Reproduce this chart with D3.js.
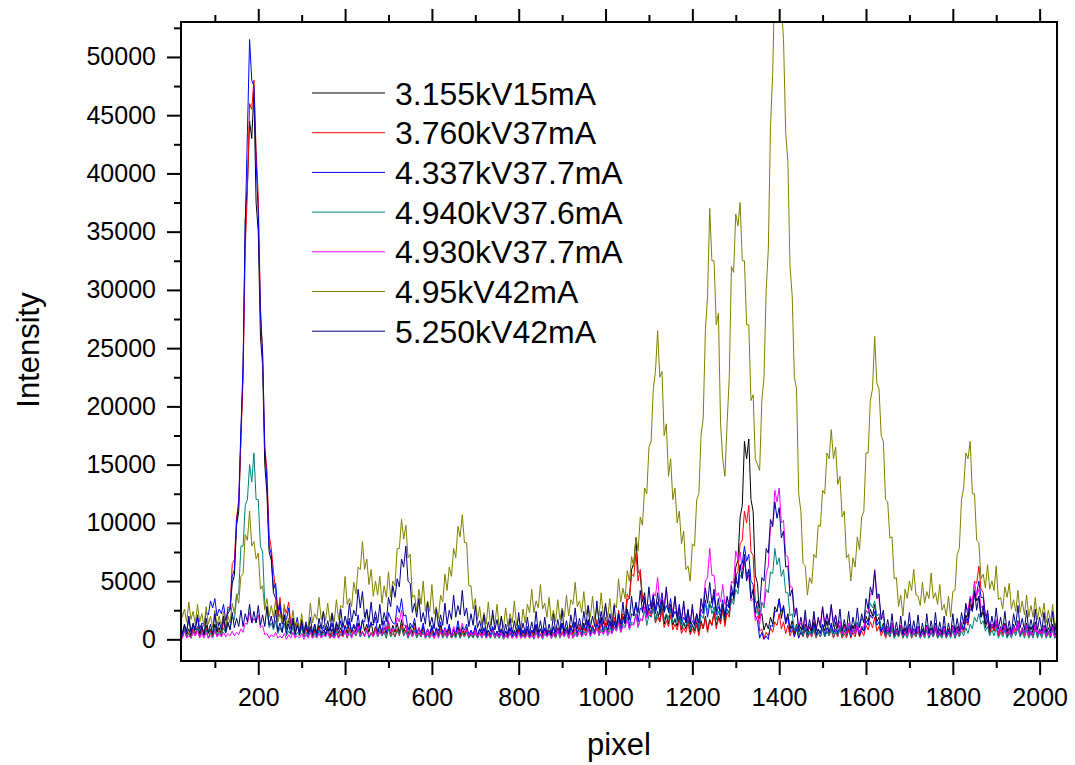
<!DOCTYPE html>
<html><head><meta charset="utf-8">
<script src="https://cdn.jsdelivr.net/npm/d3@7"></script>
<style>
body{margin:0;background:#fff}
text{font-family:"Liberation Sans",Arial,Helvetica,sans-serif;fill:#000}
</style>
</head><body>
<svg id="chart" width="1075" height="765"></svg>
<script>
// detector pixel grid of the sampled values (one value every 5 pixels, from pixel 20)
const pixelStart = 20, pixelStep = 5;

const seriesNames = ["3.155kV15mA","3.760kV37mA","4.337kV37.7mA","4.940kV37.6mA","4.930kV37.7mA","4.95kV42mA","5.250kV42mA"];
const seriesColors = ["#000000","#ff0000","#0000ff","#008080","#ff00ff","#808000","#000080"];

const s3155kV15mA = [
 1100,300,1200,400,900,300,1300,500,1000,200,1100,400,1200,500,900,300,1300,600,1000,400,
 1600,900,2200,2500,4800,5500,9800,11000,17500,23000,36000,39000,44500,43000,47000,37500,35000,26000,23500,15000,
 12500,7500,6800,4000,3500,1900,2900,1400,2100,900,1600,1100,1800,600,1200,700,1500,400,1000,500,
 1100,300,900,400,1200,300,800,500,1100,200,900,400,1300,500,1000,300,1200,500,1500,600,
 1200,600,1400,500,1700,700,1300,600,1500,400,1100,500,1300,400,1000,500,1500,500,1200,600,
 1400,500,1700,600,1200,400,1100,500,1400,400,900,400,1100,300,800,300,1000,200,900,400,
 1200,400,900,300,1100,200,800,300,1100,300,1000,400,1000,300,700,200,1000,300,900,400,
 900,300,800,200,1000,300,700,200,900,200,700,200,900,200,800,300,1000,300,700,200,
 900,200,800,300,1200,400,900,300,900,200,800,300,1100,300,1000,400,1400,500,1000,400,
 1200,500,1500,600,1000,500,1400,700,1700,600,1200,600,1500,800,1900,700,1400,700,1600,800,
 1600,900,2300,1100,2000,1300,3400,3500,6000,6500,8700,5800,5600,3200,4000,2000,2700,2200,3200,1500,
 2400,1500,2900,1300,2100,1300,2700,1200,1700,1100,2000,800,1400,900,1800,600,1200,700,1500,600,
 1600,900,2000,800,1700,1200,2400,1200,2000,1500,2800,1400,2600,2200,4000,3800,6200,6800,10500,11500,
 17000,15500,17200,12000,11000,5500,4800,1800,2200,800,1400,900,1900,1300,2800,2400,3500,1800,2900,1500,
 2200,900,1600,500,1300,600,1100,300,1300,400,1100,500,1500,400,900,500,1300,700,1600,500,
 1200,500,1500,400,1000,400,1300,300,900,400,1200,500,1400,400,1100,700,2000,1500,2600,2000,
 3000,1500,1900,700,1400,400,1100,500,1400,300,900,400,1200,300,1000,400,1300,300,900,400,
 1100,300,900,400,1200,400,1000,400,1400,400,900,300,1100,200,900,300,1200,300,1100,500,
 1400,800,2100,1600,3000,2500,4200,3300,3700,1900,2400,1000,1700,500,1300,700,1600,400,1100,500,
 1400,300,1000,500,1300,700,1600,400,1000,500,1400,300,1100,500,1500,400,900,500,1200,300,
 1000,500,1300,300,800];

const s3760kV37mA = [
 700,100,800,200,600,100,900,300,1100,200,800,300,900,100,700,200,1000,300,800,400,
 1700,800,2800,2600,6500,6800,10500,11500,17000,22500,33500,38500,46000,45500,48000,42000,38000,28500,24500,16500,
 14500,9000,7800,5800,4200,2000,3600,1500,2700,2300,3200,1300,1800,500,1300,600,1700,300,900,400,
 900,100,700,200,1000,200,600,300,800,100,600,200,900,200,700,300,800,100,1000,300,
 800,300,1000,200,700,300,1000,200,600,300,1000,200,800,300,700,100,1100,300,800,200,
 900,300,1300,300,800,100,700,300,1000,200,600,200,800,100,500,200,800,100,700,300,
 900,200,600,200,800,100,500,200,800,100,700,200,800,100,500,200,700,100,600,200,
 700,200,500,100,800,100,600,100,700,100,400,100,600,100,600,200,800,100,500,200,
 700,100,600,200,900,100,500,200,700,300,800,100,600,200,1000,200,700,300,800,100,
 1100,300,900,400,1300,300,1000,500,1500,400,1200,600,1700,500,1300,700,1900,600,1500,700,
 1900,1100,2500,1100,2200,2000,3900,3500,5600,5400,7400,5000,6000,3500,3400,1900,2400,1900,2900,1400,
 1900,1500,2500,1000,1600,1100,2100,800,1300,800,1700,500,1000,600,1400,400,900,500,1200,300,
 1400,900,1800,600,1600,1200,2300,900,1800,1300,2600,1100,2300,1900,3500,3300,5500,5800,8200,8500,
 11000,10000,11500,7500,7200,3300,2800,700,900,100,600,300,1000,600,1500,1200,2200,900,1500,500,
 1200,300,800,300,1000,200,600,200,900,100,500,200,800,100,600,200,900,200,700,300,
 800,100,600,200,900,100,500,100,800,100,600,200,1000,200,700,300,1200,800,1500,1000,
 1900,700,1100,300,800,100,600,200,900,100,500,200,800,100,600,200,900,100,500,200,
 700,100,500,200,800,100,600,200,900,100,500,200,800,100,600,200,900,100,700,300,
 1000,600,1600,1200,3000,2800,5000,4800,6300,4300,4000,1900,2000,600,1100,700,1300,300,800,400,
 1000,200,600,300,900,500,1200,300,700,300,1000,200,600,300,1100,200,700,300,900,200,
 600,200,900,100,400];

const s4337kV377mA = [
 1300,400,900,700,1700,600,1100,1000,2100,900,1400,1200,2300,2100,3300,2700,3500,2000,2600,2200,
 3000,1600,2500,2600,5400,6000,10000,12000,18000,23500,35500,43500,51500,48000,47500,41000,36500,28000,24500,16500,
 13500,8000,7300,4300,4800,2500,3100,1300,2100,1700,2700,900,1400,1100,1900,500,1100,700,1500,400,
 900,600,1300,300,800,500,1200,300,900,700,1400,300,1000,800,1600,400,1100,900,1800,600,
 1300,900,2100,800,1600,1500,2600,1000,1400,1200,1900,600,1100,700,1600,500,2300,1800,1400,1300,
 2900,2300,3500,2000,2100,800,1400,1000,1800,500,1000,600,1400,300,900,500,1200,300,1000,700,
 1500,500,1000,600,1300,300,900,500,1600,500,1100,800,1300,300,800,400,1200,300,900,500,
 1000,200,800,400,1100,200,700,300,900,200,700,400,1000,200,700,300,1200,300,800,400,
 1100,200,800,500,1300,300,900,500,1000,200,700,300,1100,200,900,500,1300,300,800,400,
 1000,600,1400,300,900,400,1200,800,1500,400,1000,600,1300,1000,1700,500,1200,800,1500,500,
 1400,900,2000,700,1600,1500,2600,1100,2200,2000,3200,1500,2700,2500,3600,2000,3000,2800,3800,2200,
 3200,2700,4000,2300,2900,2500,3500,1900,2400,2000,3000,1300,1900,1500,2600,1000,1600,1200,2200,900,
 2600,2200,3400,1900,3000,2700,3800,2100,2800,2400,3400,1900,3000,2700,4000,3700,5000,4700,6400,6500,
 8000,6700,7300,5000,4700,2000,1600,100,600,0,300,0,1200,1100,2400,2400,3400,2400,2800,1300,
 1900,600,1200,200,900,100,600,300,1000,200,700,400,1200,300,800,500,1300,300,1000,600,
 1400,500,900,500,1200,300,700,400,1100,200,800,500,1200,300,900,700,1600,1200,2100,1800,
 2400,1200,1500,600,1100,300,800,500,1200,300,700,400,1100,200,800,500,1200,300,900,500,
 1100,300,700,400,1200,300,800,500,1000,200,600,300,1100,300,700,400,1000,200,800,500,
 1100,800,1800,1400,2600,2500,4000,3900,5000,3600,3600,2000,2200,900,1300,900,1600,500,1000,700,
 1200,300,800,400,1100,800,1400,400,800,500,1200,300,700,400,1300,400,800,500,1100,300,
 700,300,1100,300,600];

const s4940kV376mA = [
 500,100,900,200,500,100,700,300,1100,300,600,200,800,100,500,200,1000,300,700,300,
 1000,500,1300,900,1900,1700,3600,4000,8000,8000,11500,12000,15000,13500,16000,12000,12000,8000,7500,3000,
 2700,1000,1400,800,1600,500,1000,600,1400,300,700,400,1100,200,600,300,1000,200,600,200,
 700,100,500,200,800,200,600,200,700,100,400,100,700,100,500,200,700,100,800,200,
 600,300,900,200,600,200,800,100,500,200,800,200,700,300,600,100,900,200,500,200,
 700,400,1000,300,700,100,600,200,800,100,500,200,700,100,400,100,600,100,500,200,
 700,100,500,100,600,100,400,100,700,100,500,200,600,100,400,100,500,100,500,100,
 500,100,400,100,600,100,400,100,500,0,300,100,500,100,400,100,600,100,400,100,
 500,100,400,0,700,100,400,0,500,200,600,100,400,100,700,100,500,200,600,100,
 700,100,600,200,900,200,700,300,1000,200,800,400,1100,300,900,500,1200,400,1000,600,
 1100,700,1600,600,1300,1100,1900,800,1500,1300,2200,1000,1800,1600,2500,1200,2100,1900,2800,1500,
 2300,2100,3100,1700,2200,1800,2700,1400,1800,1500,2300,1000,1500,1100,2000,800,1300,900,1800,900,
 2100,1800,2900,2500,3300,2200,2800,1700,2400,1900,3000,1800,2600,2300,3400,3000,4300,3900,5500,5300,
 6700,5500,6000,4000,4000,2100,2500,1900,3200,2700,4300,4000,5800,5600,7800,6400,7000,5400,6000,4000,
 4000,2000,2200,800,1200,300,800,300,1100,200,700,300,1000,200,600,200,900,200,700,300,
 1000,200,700,300,1100,200,800,400,1200,300,900,600,1500,1000,1800,1500,2500,2200,3100,2700,
 3300,2000,2200,900,1200,300,700,200,1000,100,600,200,900,100,500,100,800,100,600,200,
 800,100,500,100,900,100,600,200,800,100,400,100,700,100,500,100,800,100,600,200,
 700,300,1000,500,1300,900,1900,1500,2200,1300,1600,700,1100,300,800,300,1000,100,600,200,
 800,100,500,100,700,300,1000,200,600,100,800,100,500,100,900,100,600,100,800,100,
 500,100,800,100,300];

const s4930kV377mA = [
 400,100,700,100,300,100,600,300,800,100,500,100,600,100,300,100,700,200,500,200,
 600,200,500,300,700,300,600,400,900,600,1400,1300,2300,1400,1800,1500,2100,1000,1200,400,
 500,100,400,200,600,100,300,100,500,0,400,100,600,100,300,100,500,0,400,100,
 600,100,300,100,500,100,400,200,600,100,300,100,500,100,400,200,800,200,500,100,
 700,500,1100,400,600,300,900,300,500,200,800,300,600,400,1000,800,1600,600,900,800,
 1900,1500,2500,1200,1200,300,800,200,600,400,1000,300,500,200,800,200,400,100,700,100,
 600,400,900,200,500,300,1100,500,700,600,1400,600,900,300,600,300,800,200,500,200,
 700,100,400,200,800,200,500,200,600,100,300,100,700,100,400,100,600,100,300,100,
 500,100,300,100,600,100,400,100,700,200,500,100,400,200,800,200,500,200,700,100,
 600,100,400,200,800,200,500,300,900,300,600,400,1000,400,700,400,900,300,700,500,
 1000,700,1400,600,1100,1000,1700,900,1300,1200,2100,1100,1700,1600,2800,1800,2300,2400,4000,3700,
 5300,3200,3500,3000,4300,2500,2900,2400,3600,1900,2300,1800,3000,1500,1900,1300,2600,1200,1600,1400,
 3000,3000,5000,5300,7800,5500,5500,3700,4000,3200,4700,3000,3500,3200,5000,4800,7600,6800,7500,6000,
 7000,5100,5500,3300,3500,1600,2000,1300,3000,3000,5600,6300,9700,9700,12800,11800,13000,10000,10200,7200,
 7100,4500,4500,2400,2700,1000,1400,800,1900,700,1300,900,2100,1000,1600,1400,2800,1500,2000,1600,
 2900,1500,2000,900,1600,500,1100,500,1400,500,900,500,1300,600,1100,1000,2400,2300,3900,3900,
 6000,4000,3500,1700,2000,600,1100,500,1400,400,800,400,1200,300,700,300,1100,300,800,400,
 1000,200,600,300,1100,300,800,400,1200,300,700,300,1000,200,600,300,1100,300,900,500,
 1500,1300,2900,2500,3700,3200,4900,3700,4300,2700,2900,1600,2200,900,1300,900,1700,500,1000,600,
 1200,400,800,300,1100,700,1500,500,900,500,1200,300,700,400,1300,400,800,400,1100,300,
 700,300,1000,200,500];

const s495kV42mA = [
 3300,1900,2600,1500,3200,1700,2400,1300,3000,1500,2200,1100,2800,1300,2000,1000,2500,1200,2000,1100,
 2400,1100,2000,1400,3100,2200,3900,3100,5400,5600,9000,8500,11000,8000,8400,6900,7400,4300,4600,2500,
 3500,1900,2900,1900,3400,1500,2200,1400,3000,1200,1800,1100,2500,900,1500,900,2200,800,1300,1000,
 3100,1400,2200,1700,3600,1700,2400,1600,3100,1500,2300,1500,3400,1700,2900,2700,5400,3000,3500,2800,
 4900,3900,6200,6000,8400,6000,6900,4700,6000,3700,5000,3800,5400,3100,4600,3600,5800,3600,5000,4600,
 7800,7800,10300,8600,9800,7000,7300,3600,3800,2400,4300,3000,5000,2400,3300,2400,4700,2200,2800,1800,
 3800,3200,5600,4200,6200,5400,7800,7000,9700,8800,10700,8300,8300,4600,4600,2600,3500,1700,2800,1200,
 2300,1300,3200,1200,2100,1300,3000,1000,1900,1000,2700,1100,2200,1400,3300,1200,1800,900,2600,1400,
 3000,2300,4300,2300,3300,2700,4700,2600,3100,1900,3600,1600,2500,1500,3400,1700,2700,1900,3800,2000,
 3400,3000,4900,2800,3300,2300,4100,2100,2900,1900,3700,1700,2700,2000,4000,1900,3000,1900,3500,1500,
 3100,2700,5200,3200,4400,3500,5900,5000,7100,6200,8800,7600,10500,9800,13000,12500,16500,17000,21500,23000,
 26500,22500,23000,17500,18500,14000,15500,12000,13000,10000,11000,8200,9300,6000,6300,5000,8200,8000,12000,12500,
 17500,19000,26500,29500,37000,32500,32500,27000,28000,18500,15500,14000,18500,22500,32000,31500,36500,35500,37500,32500,
 32500,27000,27000,20500,21000,15500,15000,14500,20500,22500,30000,33500,44000,48500,57000,56000,59000,54500,51500,43500,
 41000,32000,29500,22500,21500,12500,11000,6500,6300,3800,5300,4800,7300,7000,9800,9700,12800,12500,16000,15500,
 18000,15500,16500,13300,14000,10500,11000,7000,7300,5000,7000,6200,8800,7700,10500,11000,16000,16000,20500,21500,
 26000,22000,21500,17500,17000,12000,11800,8700,8800,5200,5300,2800,3800,2000,4300,3500,5000,4200,6000,3800,
 3700,2900,4900,3100,4100,3500,5700,3500,4000,3000,4700,2500,3000,2000,3700,1900,4100,4200,7300,7800,
 12000,13000,16000,15500,17000,12500,12500,8500,8300,5200,5600,4400,6400,4300,5000,4200,6300,3400,3600,2600,
 4500,3600,4800,2600,3400,2400,4200,2300,3300,2100,3800,1900,2900,1900,3600,1700,2800,1900,3100,1400,
 2500,1500,3000,1000,1800];

const s5250kV42mA = [
 1600,500,1300,600,2000,700,1400,800,1900,500,1200,400,1800,600,1300,500,2200,700,1500,800,
 2000,600,1500,800,2300,1000,1800,1100,2500,1100,2200,1500,3000,1400,2400,1400,2900,1200,2100,1100,
 2800,1200,2000,1000,2500,700,1400,600,2100,500,1300,500,1800,400,1200,400,1600,500,1300,600,
 1900,500,1300,500,1800,900,2400,800,1600,700,2200,600,1500,900,2600,1000,2000,1200,3100,1500,
 2500,2000,4300,2700,4100,1900,2500,1500,3200,1400,2400,1400,3000,1200,2300,1500,3600,2800,4600,3600,
 5200,4500,6900,6200,8000,5000,4800,2300,3100,1900,3500,1500,2300,1300,3200,1100,1900,900,2600,1100,
 2100,1200,3100,1300,2500,1700,3800,1900,2900,2100,4200,2000,2700,1100,2200,1200,2900,1000,1600,700,
 2100,500,1500,700,2500,800,1700,600,2000,400,1300,400,1800,500,1600,600,2300,500,1400,500,
 1900,500,1500,600,2400,600,1600,500,1900,400,1300,400,2200,600,1700,700,2500,700,1600,500,
 2100,1000,2700,900,1800,800,2400,1200,2900,1000,2000,1100,3300,1300,2400,1300,3100,1200,2200,1100,
 2900,1100,2200,1300,3200,1400,2600,1700,3700,2000,3100,2300,4200,2300,3400,2500,4500,2600,3800,2500,
 4000,2200,3400,2400,4500,2300,3000,1900,3700,1700,2700,1600,3300,1400,2400,1300,3000,1200,2200,1400,
 3500,2500,4400,3100,4900,3100,4300,2400,3500,1800,3000,1900,3700,2700,4600,3500,5600,4400,6400,5200,
 7300,5000,6000,3500,4300,2300,3300,2700,5300,5000,7800,7400,10300,9700,11800,10400,11300,8700,9300,6200,
 6300,3700,4300,1900,2700,800,1900,800,2500,700,1700,700,2400,700,1900,1000,2800,1100,2200,1200,
 3000,1100,2100,1000,2600,700,1700,700,2400,700,1900,900,2700,1000,2200,1400,3500,2600,4500,3800,
 5900,3500,3900,1700,2500,600,1700,600,2200,400,1500,400,2000,400,1600,600,2300,500,1600,500,
 2100,300,1400,400,2200,500,1600,500,2300,500,1500,400,2000,300,1400,400,2200,600,1800,700,
 2300,1300,3100,1900,3500,2400,4100,2500,3700,1900,2900,1300,2500,800,2000,1000,2700,900,1900,800,
 2400,600,1600,500,2200,1200,2900,1000,1800,800,2500,700,1700,800,2600,800,1900,700,2300,600,
 1800,700,2400,600,1700];

const seriesValues = [s3155kV15mA, s3760kV37mA, s4337kV377mA, s4940kV376mA, s4930kV377mA, s495kV42mA, s5250kV42mA];

const xMajorTicks = [200,400,600,800,1000,1200,1400,1600,1800,2000];
const xMinorTicks = [100,300,500,700,900,1100,1300,1500,1700,1900];
const yMajorTicks = [0,5000,10000,15000,20000,25000,30000,35000,40000,45000,50000];
const yMinorTicks = [2500,7500,12500,17500,22500,27500,32500,37500,42500,47500,52500];
const xDomain = [22, 2040];
const yDomain = [-1860, 53000];

const L = 181, R = 1057, T = 22, B = 661;
const svg = d3.select("#chart");
const x = d3.scaleLinear().domain(xDomain).range([L, R]);
const y = d3.scaleLinear().domain(yDomain).range([B, T]);

svg.append("defs").append("clipPath").attr("id","plotclip")
  .append("rect").attr("x",L).attr("y",T).attr("width",R-L).attr("height",B-T);

const line = d3.line().x((d,i)=>x(pixelStart+i*pixelStep)).y(d=>y(d));
const g = svg.append("g").attr("clip-path","url(#plotclip)");
seriesValues.forEach((vals,k)=>{
  g.append("path").datum(vals).attr("d",line)
   .attr("fill","none").attr("stroke",seriesColors[k]).attr("stroke-width",1);
});

function styleAxis(sel){
  sel.select(".domain").remove();
  sel.selectAll(".tick line").attr("stroke","#000").attr("stroke-width",2);
}
const fs = "25px";
const bx = svg.append("g").attr("transform",`translate(0,${B})`)
  .call(d3.axisBottom(x).tickValues(xMajorTicks).tickSize(14).tickPadding(13).tickFormat(d3.format("d")));
styleAxis(bx); bx.selectAll("text").attr("font-size",fs).attr("font-family",null);
const bxm = svg.append("g").attr("transform",`translate(0,${B})`)
  .call(d3.axisBottom(x).tickValues(xMinorTicks).tickSize(7).tickFormat(""));
styleAxis(bxm);
const tx = svg.append("g").attr("transform",`translate(0,${T})`)
  .call(d3.axisTop(x).tickValues(xMajorTicks).tickSize(13).tickFormat(""));
styleAxis(tx);
const txm = svg.append("g").attr("transform",`translate(0,${T})`)
  .call(d3.axisTop(x).tickValues(xMinorTicks).tickSize(7).tickFormat(""));
styleAxis(txm);
const ly = svg.append("g").attr("transform",`translate(${L},0)`)
  .call(d3.axisLeft(y).tickValues(yMajorTicks).tickSize(14).tickPadding(11).tickFormat(d3.format("d")));
styleAxis(ly); ly.selectAll("text").attr("font-size",fs).attr("font-family",null);
const lym = svg.append("g").attr("transform",`translate(${L},0)`)
  .call(d3.axisLeft(y).tickValues(yMinorTicks).tickSize(7).tickFormat(""));
styleAxis(lym);

svg.append("rect").attr("x",L).attr("y",T).attr("width",R-L).attr("height",B-T)
  .attr("fill","none").attr("stroke","#000").attr("stroke-width",2);

svg.append("text").attr("x",619).attr("y",755).attr("text-anchor","middle")
  .attr("font-size","31px").text("pixel");
svg.append("text").attr("transform","translate(39,350) rotate(-90)").attr("text-anchor","middle")
  .attr("font-size","31px").text("Intensity");

const legY0 = 93, legDy = 39.7;
seriesNames.forEach((n,k)=>{
  const yy = legY0 + k*legDy;
  svg.append("line").attr("x1",312).attr("x2",385).attr("y1",yy).attr("y2",yy)
    .attr("stroke",seriesColors[k]).attr("stroke-width",1);
  svg.append("text").attr("x",395).attr("y",yy).attr("dy","0.36em")
    .attr("font-size","32px").text(n);
});
</script>
</body></html>
